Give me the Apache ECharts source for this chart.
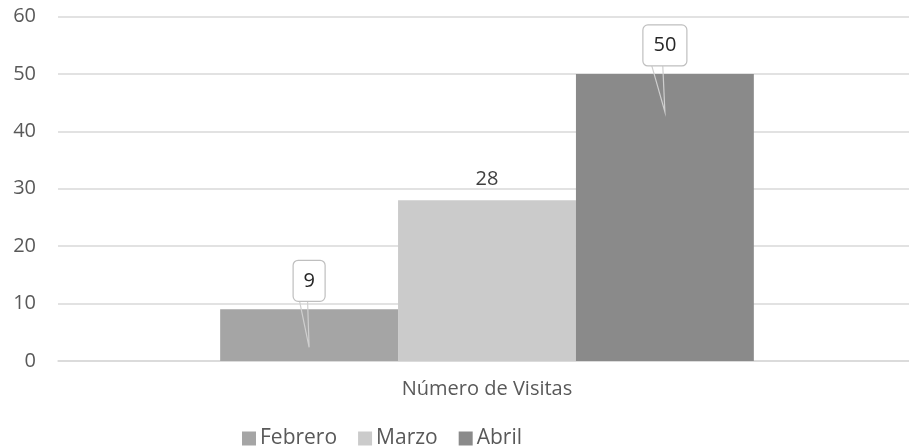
<!DOCTYPE html>
<html>
<head>
<meta charset="utf-8">
<script src="https://cdn.jsdelivr.net/npm/echarts@6/dist/echarts.min.js"></script>
<style>
  html, body { margin: 0; padding: 0; background: #fff; overflow: hidden; }
  /* plot area runs past the right edge of the window, as in the original */
  #chart { width: 916px; height: 448px; }
</style>
</head>
<body>
<div id="chart"></div>
<script>
const categories = ['Número de Visitas'];
const seriesNames = ['Febrero', 'Marzo', 'Abril'];
const febrero = [9];
const marzo = [28];
const abril = [50];
const yTicks = [0, 10, 20, 30, 40, 50, 60];
// which series get the boxed callout label instead of a plain one
const calloutSeries = ['Febrero', 'Abril'];

const colors = ['#a5a5a5', '#cbcbcb', '#8a8a8a'];
const FONT = 'Open Sans';
const CAT_GAP = 0.378;

const chart = echarts.init(document.getElementById('chart'), null, { renderer: 'canvas' });

const values = { Febrero: febrero, Marzo: marzo, Abril: abril };

const barSeries = seriesNames.map((name, i) => ({
    name,
    type: 'bar',
    data: values[name],
    barGap: 0,
    barCategoryGap: (CAT_GAP * 100) + '%',
    itemStyle: { color: colors[i] },
    label: {
        show: calloutSeries.indexOf(name) < 0,
        position: 'top',
        distance: 11,
        color: '#404040',
        fontFamily: FONT,
        fontSize: 20
    }
}));

const calloutItems = [];
calloutSeries.forEach(name => {
    const slot = seriesNames.indexOf(name) - 1;
    values[name].forEach((v, ci) => calloutItems.push([ci, v, slot]));
});

const calloutSeriesOpt = {
    name: 'callouts',
    type: 'custom',
    z: 5,
    data: calloutItems,
    encode: { x: 0, y: 1 },
    renderItem: (params, api) => {
        const v = api.value(1);
        const slot = api.value(2);
        const pt = api.coord([api.value(0), v]);
        const band = api.size([1, 0])[0];
        const barW = band * (1 - CAT_GAP) / seriesNames.length;
        const cx = pt[0] + slot * barW;
        const top = pt[1];
        const txt = String(v);
        const w = 20 + 12 * txt.length;
        const h = 41;
        const by = top - 8;
        const bx = cx - w / 2;
        return {
            type: 'group',
            children: [
                {
                    type: 'polyline',
                    shape: { points: [[bx + 0.19 * w, by - 2], [cx, top + 38], [bx + 0.45 * w, by - 2]] },
                    style: { stroke: '#cfcfcf', lineWidth: 1.2, fill: null }
                },
                {
                    type: 'rect',
                    shape: { x: bx, y: by - h, width: w, height: h, r: 5 },
                    style: { fill: '#ffffff', stroke: '#bfbfbf', lineWidth: 1.2 }
                },
                {
                    type: 'text',
                    style: {
                        text: txt, x: cx, y: by - h / 2,
                        align: 'center', verticalAlign: 'middle',
                        fill: '#262626', font: '20px "' + FONT + '"'
                    }
                }
            ]
        };
    }
};

const option = {
    animation: false,
    backgroundColor: '#ffffff',
    textStyle: { fontFamily: FONT },
    grid: { left: 58, top: 16.5, right: 0, bottom: 87, containLabel: false },
    legend: {
        data: seriesNames,
        left: 237,
        top: 423,
        itemWidth: 14,
        itemHeight: 14,
        itemGap: 21,
        icon: 'rect',
        textStyle: { color: '#595959', fontSize: 21, fontFamily: FONT, padding: [0, 0, 0, -1] }
    },
    xAxis: {
        type: 'category',
        data: categories,
        axisLine: { show: true, lineStyle: { color: '#d9d9d9', width: 1.5 } },
        axisTick: { show: false },
        axisLabel: { color: '#595959', fontSize: 20, fontFamily: FONT, margin: 18 }
    },
    yAxis: {
        type: 'value',
        min: yTicks[0],
        max: yTicks[yTicks.length - 1],
        interval: 10,
        axisLine: { show: false },
        axisTick: { show: false },
        splitLine: { lineStyle: { color: '#d9d9d9', width: 1.5 } },
        axisLabel: { color: '#595959', fontSize: 20, fontFamily: FONT, margin: 22 }
    },
    series: barSeries.concat([calloutSeriesOpt])
};

chart.setOption(option);
</script>
</body>
</html>
